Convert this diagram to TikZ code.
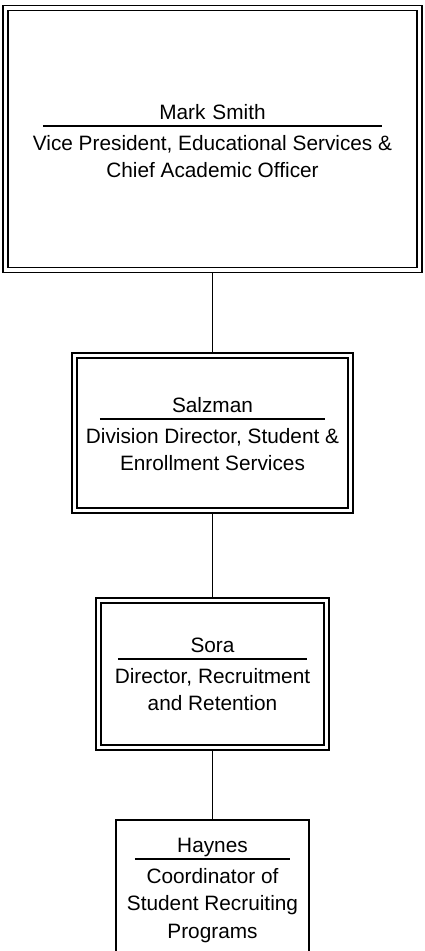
\documentclass[tikz,border=0pt]{standalone}
\usepackage{fontspec}
\setmainfont{Liberation Sans}
\usepackage{tikz}
\usetikzlibrary{
	positioning,
	backgrounds
}
\newcommand{\orgfont}{\fontsize{20.8pt}{27.5pt}\selectfont}

\begin{document}
\begin{tikzpicture}[
					x=1pt, y=-1pt,
					headbox/.style={
							rectangle,
							draw=black,
							line width=1.8pt,
							double,
							double distance=3.2pt,
							inner sep=0pt
						},
					leafbox/.style={
							rectangle,
							draw=black,
							line width=1.8pt,
							inner sep=0pt
						},
					who/.style={
							font=\orgfont,
							align=center,
							inner sep=0pt,
							text depth=6.5pt,
							anchor=base
						},
					post/.style={
							font=\orgfont,
							align=center,
							inner sep=0pt
						},
					namerule/.style={
							line width=1.6pt
						},
					link/.style={
							line width=1.7pt
						}
				]
				\useasboundingbox (0,0) rectangle (425,951);
				\clip (0,0) rectangle (425,951);

				\node[headbox, minimum width=414.5pt, minimum height=262pt] (smith) at (212.5,139) {};
				\node[who, text width=339pt] (smithname) at (212.5,119.5) {Mark Smith};
				\draw[namerule] (smithname.south west) -- (smithname.south east);
				\node[post, below=9pt of smithname] (smithpost) {
				Vice President, Educational Services \&\\
				Chief Academic Officer
				};

				\node[headbox, minimum width=275.5pt, minimum height=155pt] (salzman) at (212.5,433) {};
				\node[who, text width=225pt] (salzmanname) at (212.5,412.5) {Salzman};
				\draw[namerule] (salzmanname.south west) -- (salzmanname.south east);
				\node[post, below=9pt of salzmanname] (salzmanpost) {
				Division Director, Student \&\\
				Enrollment Services
				};

				\node[headbox, minimum width=228pt, minimum height=147pt] (sora) at (212.5,674) {};
				\node[who, text width=189pt] (soraname) at (212.5,652.5) {Sora};
				\draw[namerule] (soraname.south west) -- (soraname.south east);
				\node[post, below=9pt of soraname] (sorapost) {
				Director, Recruitment\\
				and Retention
				};

				\node[leafbox, minimum width=193pt, minimum height=140pt] (haynes) at (212.5,890) {};
				\node[who, text width=155pt] (haynesname) at (212.5,852.5) {Haynes};
				\draw[namerule] (haynesname.south west) -- (haynesname.south east);
				\node[post, below=9pt of haynesname] (haynespost) {
				Coordinator of\\
				Student Recruiting\\
				Programs
				};

				\begin{scope}[on background layer]
				\draw[link] (smith.south) -- (salzman.north);
				\draw[link] (salzman.south) -- (sora.north);
				\draw[link] (sora.south) -- (haynes.north);
				\end{scope}
		\end{tikzpicture}
\end{document}
